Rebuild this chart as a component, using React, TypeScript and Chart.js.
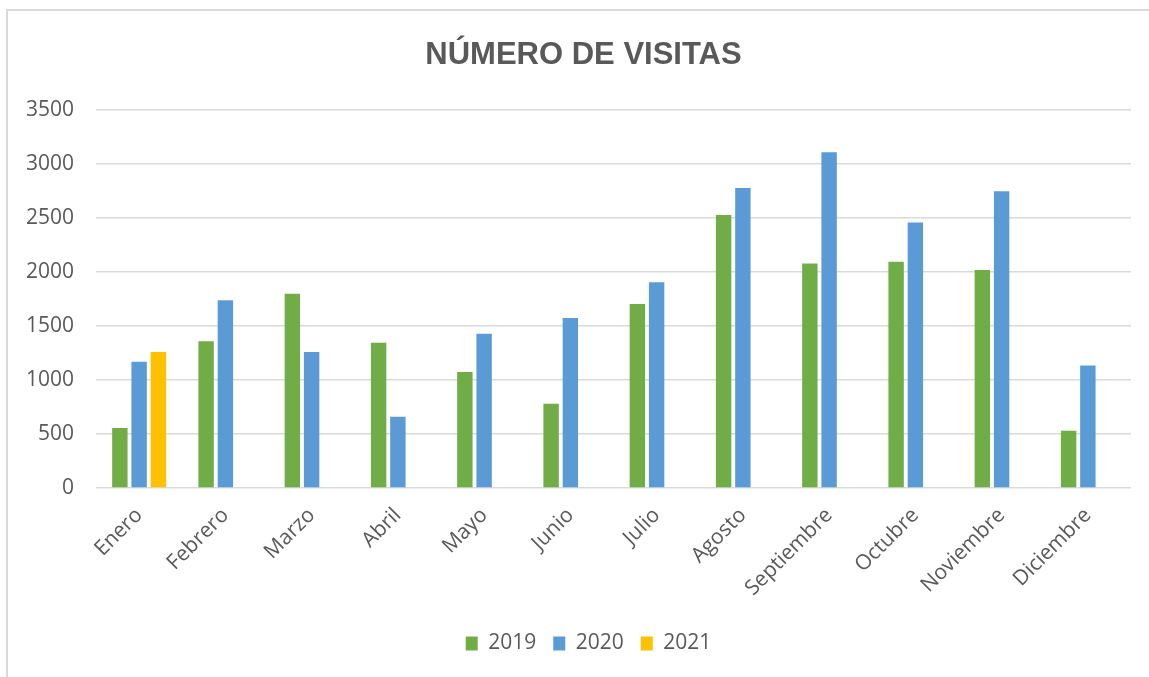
import React, { useEffect, useRef } from "react";
import { Chart, registerables } from "chart.js";

Chart.register(...registerables);

const categories = [
  "Enero", "Febrero", "Marzo", "Abril", "Mayo", "Junio",
  "Julio", "Agosto", "Septiembre", "Octubre", "Noviembre", "Diciembre",
];
const visitas2019 = [555, 1360, 1800, 1345, 1075, 780, 1705, 2530, 2080, 2095, 2020, 530];
const visitas2020 = [1170, 1740, 1260, 660, 1430, 1575, 1905, 2780, 3110, 2460, 2750, 1135];
const visitas2021 = [1260, null, null, null, null, null, null, null, null, null, null, null];
const yTickValues = [0, 500, 1000, 1500, 2000, 2500, 3000, 3500];
const seriesLabels = ["2019", "2020", "2021"];
const title = "NÚMERO DE VISITAS";

const TEXT = "#595959";
const GRID = "#d9d9d9";
const FONT = "'Open Sans', sans-serif";

// Nudges the title and legend boxes horizontally after layout (Excel centres them on the frame).
const shiftBoxes = {
  id: "shiftBoxes",
  afterLayout(chart: any) {
    const t = chart.titleBlock;
    if (t) {
      t.left += 5;
      t.right += 5;
    }
    const l = chart.legend;
    if (l) {
      l.left += 10;
      l.right += 10;
    }
  },
};

export default function App() {
  const ref = useRef<HTMLCanvasElement | null>(null);

  useEffect(() => {
    if (!ref.current) return;
    const chart = new Chart(ref.current, {
      type: "bar",
      data: {
        labels: categories,
        datasets: [
          { label: seriesLabels[0], data: visitas2019, backgroundColor: "#70AD47" },
          { label: seriesLabels[1], data: visitas2020, backgroundColor: "#5B9BD5" },
          { label: seriesLabels[2], data: visitas2021, backgroundColor: "#FFC000" },
        ],
      },
      plugins: [shiftBoxes],
      options: {
        animation: false,
        responsive: true,
        maintainAspectRatio: false,
        datasets: { bar: { categoryPercentage: 0.67, barPercentage: 0.8 } },
        layout: { padding: { left: 26, right: 18, top: 0, bottom: 13 } },
        plugins: {
          title: {
            display: true,
            text: title,
            color: TEXT,
            font: { family: "'Liberation Sans', Arial, sans-serif", size: 31, weight: "bold" },
            padding: { top: 37, bottom: 36 },
          },
          legend: {
            display: true,
            position: "bottom",
            labels: {
              color: TEXT,
              font: { family: FONT, size: 21 },
              boxWidth: 12,
              boxHeight: 14,
              padding: 17,
            },
          },
          tooltip: { enabled: false },
        },
        scales: {
          x: {
            grid: { display: false },
            border: { display: false },
            ticks: {
              color: TEXT,
              font: { family: FONT, size: 21 },
              minRotation: 45,
              maxRotation: 45,
              autoSkip: false,
              padding: 7,
            },
            afterFit: (scale: any) => {
              scale.height = 128;
            },
          },
          y: {
            min: yTickValues[0],
            max: yTickValues[yTickValues.length - 1],
            afterBuildTicks: (scale: any) => {
              scale.ticks = yTickValues.map((v) => ({ value: v }));
            },
            afterFit: (scale: any) => {
              scale.width = 70;
            },
            grid: { color: GRID, lineWidth: 1.5, drawTicks: false },
            border: { display: false },
            ticks: {
              color: TEXT,
              font: { family: FONT, size: 21 },
              padding: 22,
              callback: (v: any) => String(v),
            },
          },
        },
      },
    });
    return () => chart.destroy();
  }, []);

  return (
    <div style={{ position: "fixed", left: 0, top: 0, width: 1149, height: 677, background: "#fff", overflow: "hidden" }}>
      <div
        style={{
          position: "absolute",
          left: 6,
          top: 9,
          width: 1143,
          height: 668,
          borderTop: `2px solid ${GRID}`,
          borderLeft: `2px solid ${GRID}`,
          boxSizing: "border-box",
        }}
      />
      <div style={{ position: "absolute", left: 0, top: 0, width: 1149, height: 677 }}>
        <canvas ref={ref} />
      </div>
    </div>
  );
}
